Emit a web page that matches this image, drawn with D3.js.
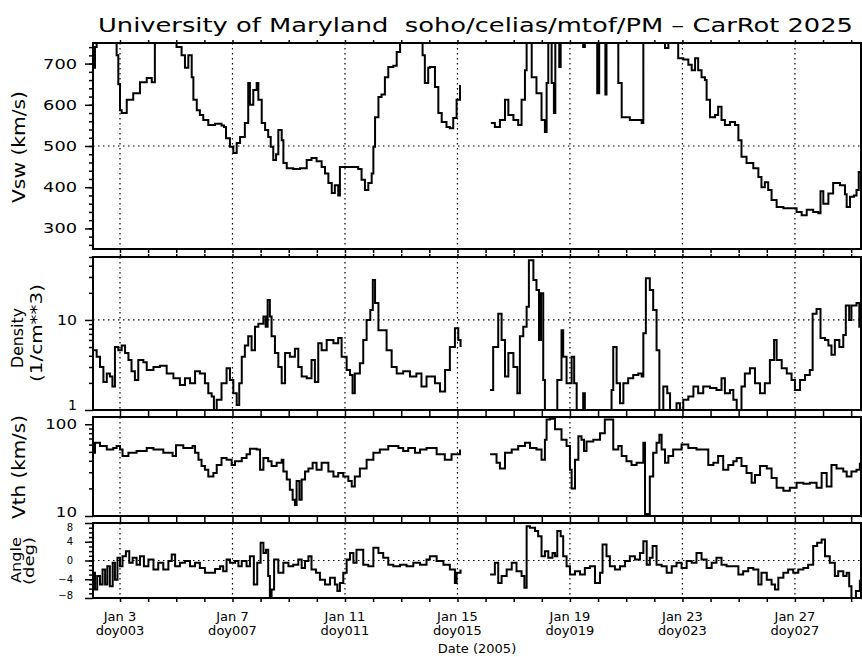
<!DOCTYPE html>
<html>
<head>
<meta charset="utf-8">
<script src="https://cdn.jsdelivr.net/npm/d3@7"></script>
<style>
  body { margin: 0; background: #fff; }
  text { font-family: "DejaVu Sans", sans-serif; fill: #000; }
  .tick line { stroke: #000; stroke-width: 1.5; }
</style>
</head>
<body>
<svg width="862" height="657"></svg>
<script>
// readings are [day of year 2005, value]; null marks the data gap
var vsw = [[2.05,690],[2.11,740],[2.17,800],[2.82,760],[2.88,720],[2.94,650],[3.00,587],[3.06,580],[3.24,612],[3.47,628],[3.71,655],[3.95,665],[4.13,655],[4.24,760],[4.30,800],[4.90,800],[5.01,740],[5.19,720],[5.31,690],[5.43,720],[5.55,667],[5.61,612],[5.73,587],[5.84,575],[5.96,563],[6.14,551],[6.38,554],[6.61,550],[6.70,546],[6.77,519],[6.91,498],[7.03,483],[7.15,507],[7.27,522],[7.44,556],[7.56,653],[7.62,600],[7.74,636],[7.86,653],[7.92,612],[8.04,556],[8.16,539],[8.27,522],[8.36,498],[8.45,466],[8.55,480],[8.63,539],[8.75,514],[8.81,459],[8.93,446],[9.16,444],[9.40,446],[9.64,466],[9.81,471],[9.99,463],[10.17,449],[10.29,433],[10.41,410],[10.53,386],[10.64,405],[10.76,380],[10.82,449],[11.06,449],[11.30,449],[11.47,444],[11.59,418],[11.71,393],[11.83,410],[11.95,433],[12.01,498],[12.07,570],[12.19,619],[12.30,625],[12.42,667],[12.54,692],[12.72,695],[12.84,728],[12.96,760],[13.01,800],[13.69,800],[13.76,720],[13.84,653],[13.96,690],[14.02,692],[14.20,643],[14.32,580],[14.44,558],[14.61,546],[14.73,543],[14.85,568],[14.97,612],[15.09,648],[15.15,null],
  [16.19,556],[16.33,546],[16.51,563],[16.69,612],[16.81,575],[16.99,563],[17.16,551],[17.28,612],[17.40,684],[17.46,800],[17.58,800],[17.64,667],[17.81,628],[17.99,563],[18.11,534],[18.17,653],[18.23,800],[18.35,653],[18.43,580],[18.48,800],[18.62,692],[18.67,800],[19.41,800],[19.47,740],[19.53,800],[19.92,800],[19.97,628],[20.04,800],[20.21,800],[20.26,625],[20.30,800],[20.66,800],[20.72,653],[20.84,570],[21.13,563],[21.55,556],[21.61,800],[22.32,800],[22.38,738],[22.50,800],[22.79,750],[22.85,713],[23.03,710],[23.21,697],[23.33,684],[23.45,713],[23.56,684],[23.68,667],[23.80,660],[23.86,612],[23.98,570],[24.16,575],[24.27,595],[24.39,563],[24.51,551],[24.69,558],[24.87,551],[24.99,514],[25.10,474],[25.28,459],[25.52,446],[25.70,425],[25.81,400],[25.93,412],[26.05,393],[26.17,369],[26.35,352],[26.59,349],[26.88,349],[27.06,340],[27.24,332],[27.42,345],[27.65,340],[27.83,337],[27.91,390],[28.01,360],[28.19,385],[28.36,410],[28.60,405],[28.78,383],[28.84,352],[28.96,377],[29.10,380],[29.19,393],[29.27,437],[29.35,445]];

var density = [[2.05,4.6],[2.17,3.9],[2.29,3.0],[2.41,2.05],[2.53,2.55],[2.64,2.35],[2.73,1.82],[2.82,5.0],[2.94,4.6],[3.06,5.2],[3.18,4.3],[3.30,3.6],[3.41,2.7],[3.53,2.15],[3.65,3.6],[3.83,3.4],[3.95,2.78],[4.19,3.0],[4.42,3.1],[4.66,2.55],[4.90,2.25],[5.13,1.9],[5.31,2.25],[5.49,1.98],[5.67,2.7],[5.84,2.55],[6.02,1.98],[6.14,1.53],[6.26,1.41],[6.34,1.0],[6.44,1.3],[6.61,1.98],[6.79,2.9],[6.91,2.15],[7.03,1.53],[7.15,1.14],[7.24,1.98],[7.33,3.9],[7.44,5.2],[7.56,6.6],[7.68,4.6],[7.80,8.4],[7.92,9.1],[8.10,10.9],[8.18,8.4],[8.25,16.7],[8.33,10.9],[8.39,6.6],[8.51,4.3],[8.63,3.0],[8.75,1.98],[8.87,4.3],[9.04,3.9],[9.22,4.8],[9.34,3.0],[9.46,2.35],[9.64,2.25],[9.81,3.6],[9.93,2.05],[10.05,5.5],[10.17,4.6],[10.35,6.0],[10.59,5.5],[10.76,6.3],[10.88,3.9],[11.06,2.78],[11.18,2.45],[11.27,1.53],[11.35,2.55],[11.53,3.3],[11.65,6.0],[11.77,10.0],[11.90,12.9],[11.99,27.8],[12.07,15.4],[12.19,7.7],[12.30,7.7],[12.48,4.6],[12.66,3.0],[12.84,2.55],[13.07,2.7],[13.31,2.35],[13.54,2.55],[13.72,1.82],[13.90,2.35],[14.02,2.35],[14.20,1.98],[14.38,1.6],[14.56,2.78],[14.73,5.0],[14.91,8.1],[15.03,6.0],[15.11,5.0],[15.15,null],
  [16.16,1.67],[16.27,5.0],[16.45,11.7],[16.57,6.0],[16.69,2.35],[16.81,4.3],[16.99,3.0],[17.13,1.53],[17.22,6.6],[17.34,8.4],[17.46,14],[17.54,46],[17.70,27.8],[17.81,21.5],[17.90,6.0],[17.97,19.8],[18.05,2.15],[18.11,0.9],[18.50,0.9],[18.55,2.15],[18.70,7.7],[18.76,3.9],[18.88,1.98],[19.06,3.9],[19.15,1.98],[19.24,0.9],[19.47,1.53],[19.53,0.9],[20.42,0.9],[20.48,1.67],[20.54,5.0],[20.66,1.98],[20.78,1.19],[20.90,1.98],[21.07,2.25],[21.25,2.45],[21.43,2.55],[21.55,2.35],[21.61,7.1],[21.70,29],[21.84,21.5],[21.96,12.9],[22.08,4.6],[22.18,0.95],[22.32,1.82],[22.46,1.53],[22.56,0.95],[22.79,1.19],[22.91,0.95],[23.03,1.3],[23.21,1.41],[23.39,1.82],[23.56,1.53],[23.74,1.82],[23.98,1.75],[24.21,1.67],[24.39,2.25],[24.51,1.53],[24.69,1.67],[24.81,1.3],[24.93,0.95],[25.10,1.82],[25.22,2.55],[25.40,2.9],[25.58,1.98],[25.76,1.53],[25.93,1.98],[26.11,3.6],[26.26,6.0],[26.35,3.6],[26.53,2.9],[26.71,2.55],[26.88,2.15],[27.00,1.67],[27.18,2.15],[27.36,2.45],[27.53,2.78],[27.63,11.7],[27.77,13.2],[27.91,6.3],[28.07,6.0],[28.19,5.2],[28.30,4.1],[28.42,6.0],[28.58,5.0],[28.72,6.8],[28.81,14.5],[28.93,10],[29.01,14.5],[29.19,15.4],[29.29,8.4],[29.35,8.0]];

var vth = [[2.05,49],[2.11,63],[2.29,58],[2.53,53],[2.76,55],[2.88,58],[3.00,53],[3.09,45],[3.30,49],[3.59,51],[3.95,55],[4.19,53],[4.54,49],[4.87,45],[4.99,59],[5.25,55],[5.58,58],[5.67,49],[5.79,41],[5.90,35],[6.02,32],[6.14,27],[6.32,29.4],[6.44,36],[6.61,43],[6.79,41],[6.97,36],[7.09,39.5],[7.33,43],[7.50,47],[7.62,54],[7.86,53],[7.98,32],[8.10,43],[8.27,39.5],[8.39,35],[8.57,38],[8.75,41],[8.81,30.5],[8.93,25],[9.04,19.3],[9.14,15],[9.22,13.2],[9.28,24],[9.38,15],[9.46,25],[9.58,30.5],[9.70,33],[9.85,38],[9.99,32],[10.17,38],[10.41,30.5],[10.59,27],[10.76,29.4],[10.94,27],[11.12,24],[11.24,21],[11.35,27],[11.53,33],[11.77,41],[12.01,49],[12.24,53],[12.54,58],[12.90,55],[13.07,51],[13.25,55],[13.49,49],[13.67,53],[13.90,55],[14.02,55],[14.26,47],[14.55,41],[14.79,47],[15.09,53],[15.15,null],
  [16.16,47],[16.39,38],[16.51,33],[16.69,49],[16.93,53],[17.16,58],[17.40,63],[17.58,55],[17.81,53],[17.99,41],[18.11,68],[18.17,113],[18.29,115],[18.47,88],[18.70,68],[18.88,58],[19.00,32],[19.06,20],[19.18,41],[19.30,74],[19.41,68],[19.50,51],[19.59,65],[19.83,68],[20.07,80],[20.24,113],[20.42,113],[20.54,53],[20.72,58],[20.84,45],[21.01,39.5],[21.19,36],[21.37,38],[21.55,38],[21.61,63],[21.67,10.5],[21.79,10.5],[21.84,27],[21.96,49],[22.08,63],[22.18,77],[22.26,53],[22.38,38],[22.50,45],[22.67,53],[22.97,60],[23.21,55],[23.50,53],[23.80,53],[23.92,36],[24.10,38],[24.27,45],[24.45,32],[24.63,36],[24.81,39.5],[24.93,43],[25.10,35],[25.28,29.4],[25.46,23],[25.58,28],[25.76,35],[26.00,33],[26.17,26],[26.35,20.3],[26.59,18.9],[26.82,20.3],[27.06,23],[27.30,22.5],[27.53,23],[27.77,20.3],[27.95,29.4],[28.13,21],[28.30,36],[28.48,33],[28.72,30.5],[28.84,27],[29.01,30.5],[29.19,32],[29.31,38]];

var angle = [[2.05,-2.6],[2.11,-6.2],[2.19,-3.3],[2.29,-5.1],[2.38,-1.9],[2.47,-5.1],[2.55,-1.2],[2.64,-5.5],[2.74,-0.5],[2.82,-4.1],[2.91,0.6],[3.00,-1.2],[3.09,0.9],[3.21,2.0],[3.33,-0.5],[3.45,0.6],[3.59,-0.9],[3.71,0.9],[3.85,-1.2],[4.01,0.2],[4.19,-1.9],[4.36,-0.5],[4.54,-1.9],[4.72,-0.1],[4.84,1.3],[4.96,-1.2],[5.13,-0.5],[5.31,-0.1],[5.49,-1.2],[5.67,-0.5],[5.84,-1.6],[6.02,-2.6],[6.20,-2.6],[6.38,-1.8],[6.56,-1.2],[6.67,-2.3],[6.79,0.2],[6.91,-0.5],[7.09,-0.1],[7.21,-1.2],[7.33,-0.1],[7.50,-1.2],[7.62,0.9],[7.76,-5.1],[7.88,-0.5],[8.00,3.8],[8.10,1.6],[8.19,2.3],[8.27,-3.3],[8.33,-7.6],[8.39,-6.2],[8.48,0.2],[8.63,-2.6],[8.81,-0.5],[8.99,-1.2],[9.16,-0.9],[9.34,0.2],[9.46,-1.6],[9.58,-0.1],[9.70,0.9],[9.81,-1.9],[9.97,-2.6],[10.11,-4.1],[10.29,-5.1],[10.47,-3.7],[10.64,-5.1],[10.73,-6.5],[10.82,-4.8],[10.94,-2.6],[11.06,0.2],[11.18,1.6],[11.30,-0.5],[11.41,2.3],[11.53,2.3],[11.65,-0.9],[11.83,-1.2],[12.01,2.7],[12.19,1.6],[12.36,0.6],[12.54,-0.9],[12.72,-1.2],[12.96,-0.9],[13.19,-1.2],[13.43,-0.5],[13.67,-0.9],[13.90,0.2],[14.02,0.9],[14.26,-0.1],[14.50,-0.9],[14.73,-1.9],[14.91,-4.8],[14.97,-2.6],[15.11,-1.9],[15.15,null],
  [16.16,-3.0],[16.33,-0.5],[16.45,-4.8],[16.57,-3.3],[16.75,-1.9],[16.93,-0.5],[17.10,-2.3],[17.28,-3.3],[17.38,-5.8],[17.46,7.3],[17.58,7.0],[17.76,6.3],[17.87,5.2],[17.99,0.9],[18.11,2.0],[18.23,0.6],[18.38,1.6],[18.47,0.9],[18.55,6.3],[18.67,5.2],[18.76,0.9],[18.88,-1.2],[19.00,-3.0],[19.18,-2.3],[19.36,-3.0],[19.53,-1.6],[19.71,-1.2],[19.89,-4.8],[20.07,-2.6],[20.16,3.4],[20.30,0.9],[20.42,-1.2],[20.60,-1.9],[20.78,-1.2],[20.96,-0.1],[21.13,0.9],[21.31,0.2],[21.49,1.6],[21.61,4.1],[21.73,-0.9],[21.84,0.6],[21.94,3.1],[22.08,-0.9],[22.26,-1.2],[22.44,-2.6],[22.62,-1.2],[22.79,-0.5],[22.97,-1.6],[23.15,-0.1],[23.33,-0.5],[23.50,1.6],[23.68,0.2],[23.86,-1.6],[24.04,-0.5],[24.21,0.6],[24.39,-0.9],[24.57,-1.2],[24.81,-1.2],[24.99,-3.0],[25.16,-2.3],[25.34,-1.6],[25.52,-1.9],[25.70,-5.1],[25.81,-2.6],[26.00,-4.1],[26.17,-5.1],[26.29,-6.2],[26.41,-3.7],[26.59,-2.6],[26.76,-1.9],[26.94,-2.6],[27.12,-1.9],[27.30,-1.6],[27.47,-0.9],[27.65,3.1],[27.79,3.8],[27.95,4.5],[28.07,0.9],[28.24,-0.5],[28.42,-3.3],[28.54,-2.3],[28.72,-3.3],[28.84,-2.6],[28.93,-5.5],[29.01,-8.0],[29.17,-6.5],[29.31,-4.1]];

var dayTicks = d3.range(3, 30);
var labelDays = [3, 7, 11, 15, 19, 23, 27];
var title = "University of Maryland  soho/celias/mtof/PM \u2013 CarRot 2025";

var svg = d3.select("svg");
var left = 93, right = 861;
var x = d3.scaleLinear().domain([2.04, 29.35]).range([left, right]);

// nudge: labels at the panel edges are pulled inside, as in the original
var panels = [
  { data: vsw, top: 43, bottom: 249, log: false, domain: [250, 750],
    major: [300, 400, 500, 600, 700], minor: d3.range(260, 750, 20), grid: 500,
    fs: 14, cw: 11.3, pad: 8, nudge: {},
    titles: [{ t: "Vsw (km/s)", x: 25, y: 147, len: 112, fs: 17 }] },
  { data: density, top: 257, bottom: 410, log: true, domain: [1, 50],
    major: [1, 10], minor: [2, 3, 4, 5, 6, 7, 8, 9, 20, 30, 40, 50], grid: 10,
    fs: 14, cw: 10, pad: 8, nudge: { 1: -5 },
    titles: [{ t: "Density", x: 23, y: 338, len: 60, fs: 15 }, { t: "(1/cm**3)", x: 42, y: 333, len: 98, fs: 15 }] },
  { data: vth, top: 417, bottom: 516, log: true, domain: [10, 120],
    major: [10, 100], minor: [20, 30, 40, 50, 60, 70, 80, 90], grid: null,
    fs: 14, cw: 10.6, pad: 8, nudge: { 10: -4 },
    titles: [{ t: "Vth (km/s)", x: 25, y: 467, len: 104, fs: 17 }] },
  { data: angle, top: 523, bottom: 598, log: false, domain: [-8, 8],
    major: [-8, -4, 0, 4, 8], minor: d3.range(-7, 8), grid: 0,
    fs: 10, cw: 0, pad: 12, nudge: { 8: 4, "-8": -3 },
    titles: [{ t: "Angle", x: 21, y: 560, len: 46, fs: 14 }, { t: "(deg)", x: 34, y: 561, len: 48, fs: 14 }] }
];

panels.forEach(function (p, i) {
  var y = (p.log ? d3.scaleLog() : d3.scaleLinear()).domain(p.domain).range([p.bottom, p.top]);
  var g = svg.append("g");

  g.append("clipPath").attr("id", "clip" + i)
    .append("rect").attr("x", left).attr("y", p.top).attr("width", right - left).attr("height", p.bottom - p.top);

  // dotted grid
  g.selectAll(".vgrid").data(labelDays).enter().append("line")
    .attr("x1", function (d) { return x(d); }).attr("x2", function (d) { return x(d); })
    .attr("y1", p.top).attr("y2", p.bottom)
    .attr("stroke", "#000").attr("stroke-width", 1.2).attr("stroke-dasharray", "1.5,3.5");
  if (p.grid !== null) {
    g.append("line").attr("x1", left).attr("x2", right)
      .attr("y1", y(p.grid)).attr("y2", y(p.grid))
      .attr("stroke", "#000").attr("stroke-width", 1.2).attr("stroke-dasharray", "1.5,3.5");
  }

  // data
  var line = d3.line()
    .defined(function (d) { return d[1] !== null; })
    .x(function (d) { return x(d[0]); })
    .y(function (d) { return y(d[1]); })
    .curve(d3.curveStepAfter);
  g.append("path").datum(p.data)
    .attr("clip-path", "url(#clip" + i + ")")
    .attr("fill", "none").attr("stroke", "#000").attr("stroke-width", 2)
    .attr("d", line);

  // y axes
  var yl = g.append("g").attr("transform", "translate(" + left + ",0)")
    .call(d3.axisLeft(y).tickValues(p.major).tickSize(8).tickSizeOuter(0).tickPadding(p.pad)
      .tickFormat(function (d) { return d < 0 ? "\u2212" + Math.abs(d) : String(d); }));
  yl.select(".domain").remove();
  yl.selectAll("text").attr("font-size", p.fs).attr("font-family", null)
    .attr("y", function (d) { return p.nudge[d] || 0; });
  if (p.cw) {
    yl.selectAll("text").filter(function () { return this.textContent.length > 1; })
      .attr("textLength", function () { return this.textContent.length * p.cw; })
      .attr("lengthAdjust", "spacingAndGlyphs");
  }
  g.append("g").attr("transform", "translate(" + left + ",0)")
    .call(d3.axisLeft(y).tickValues(p.minor).tickSize(4).tickFormat(""))
    .select(".domain").remove();
  g.append("g").attr("transform", "translate(" + right + ",0)")
    .call(d3.axisRight(y).tickValues(p.major).tickSize(8).tickFormat(""))
    .select(".domain").remove();
  g.append("g").attr("transform", "translate(" + right + ",0)")
    .call(d3.axisRight(y).tickValues(p.minor).tickSize(4).tickFormat(""))
    .select(".domain").remove();

  // x ticks on top and bottom
  g.append("g").attr("transform", "translate(0," + p.top + ")")
    .call(d3.axisTop(x).tickValues(dayTicks).tickSize(3).tickFormat(""))
    .select(".domain").remove();
  g.append("g").attr("transform", "translate(0," + p.bottom + ")")
    .call(d3.axisBottom(x).tickValues(dayTicks).tickSize(4).tickFormat(""))
    .select(".domain").remove();

  // frame
  g.append("rect").attr("x", left).attr("y", p.top)
    .attr("width", right - left).attr("height", p.bottom - p.top)
    .attr("fill", "none").attr("stroke", "#000").attr("stroke-width", 2);

  // axis titles
  p.titles.forEach(function (t) {
    g.append("text")
      .attr("transform", "translate(" + t.x + "," + t.y + ") rotate(-90)")
      .attr("text-anchor", "middle").attr("font-size", t.fs)
      .attr("textLength", t.len).attr("lengthAdjust", "spacingAndGlyphs")
      .text(t.t);
  });
});

// date labels
var lab = svg.append("g").selectAll("g").data(labelDays).enter().append("g")
  .attr("transform", function (d) { return "translate(" + x(d) + ",0)"; });
lab.append("text").attr("y", 621).attr("text-anchor", "middle").attr("font-size", 13)
  .text(function (d) { return "Jan " + d; });
lab.append("text").attr("y", 635).attr("text-anchor", "middle").attr("font-size", 13)
  .text(function (d) { return "doy" + d3.format("03d")(d); });

svg.append("text").attr("x", (left + right) / 2).attr("y", 653)
  .attr("text-anchor", "middle").attr("font-size", 13).text("Date (2005)");

svg.append("text").attr("x", 98).attr("y", 32).attr("font-size", 20)
  .style("white-space", "pre")
  .attr("textLength", 755).attr("lengthAdjust", "spacingAndGlyphs")
  .text(title);
</script>
</body>
</html>
